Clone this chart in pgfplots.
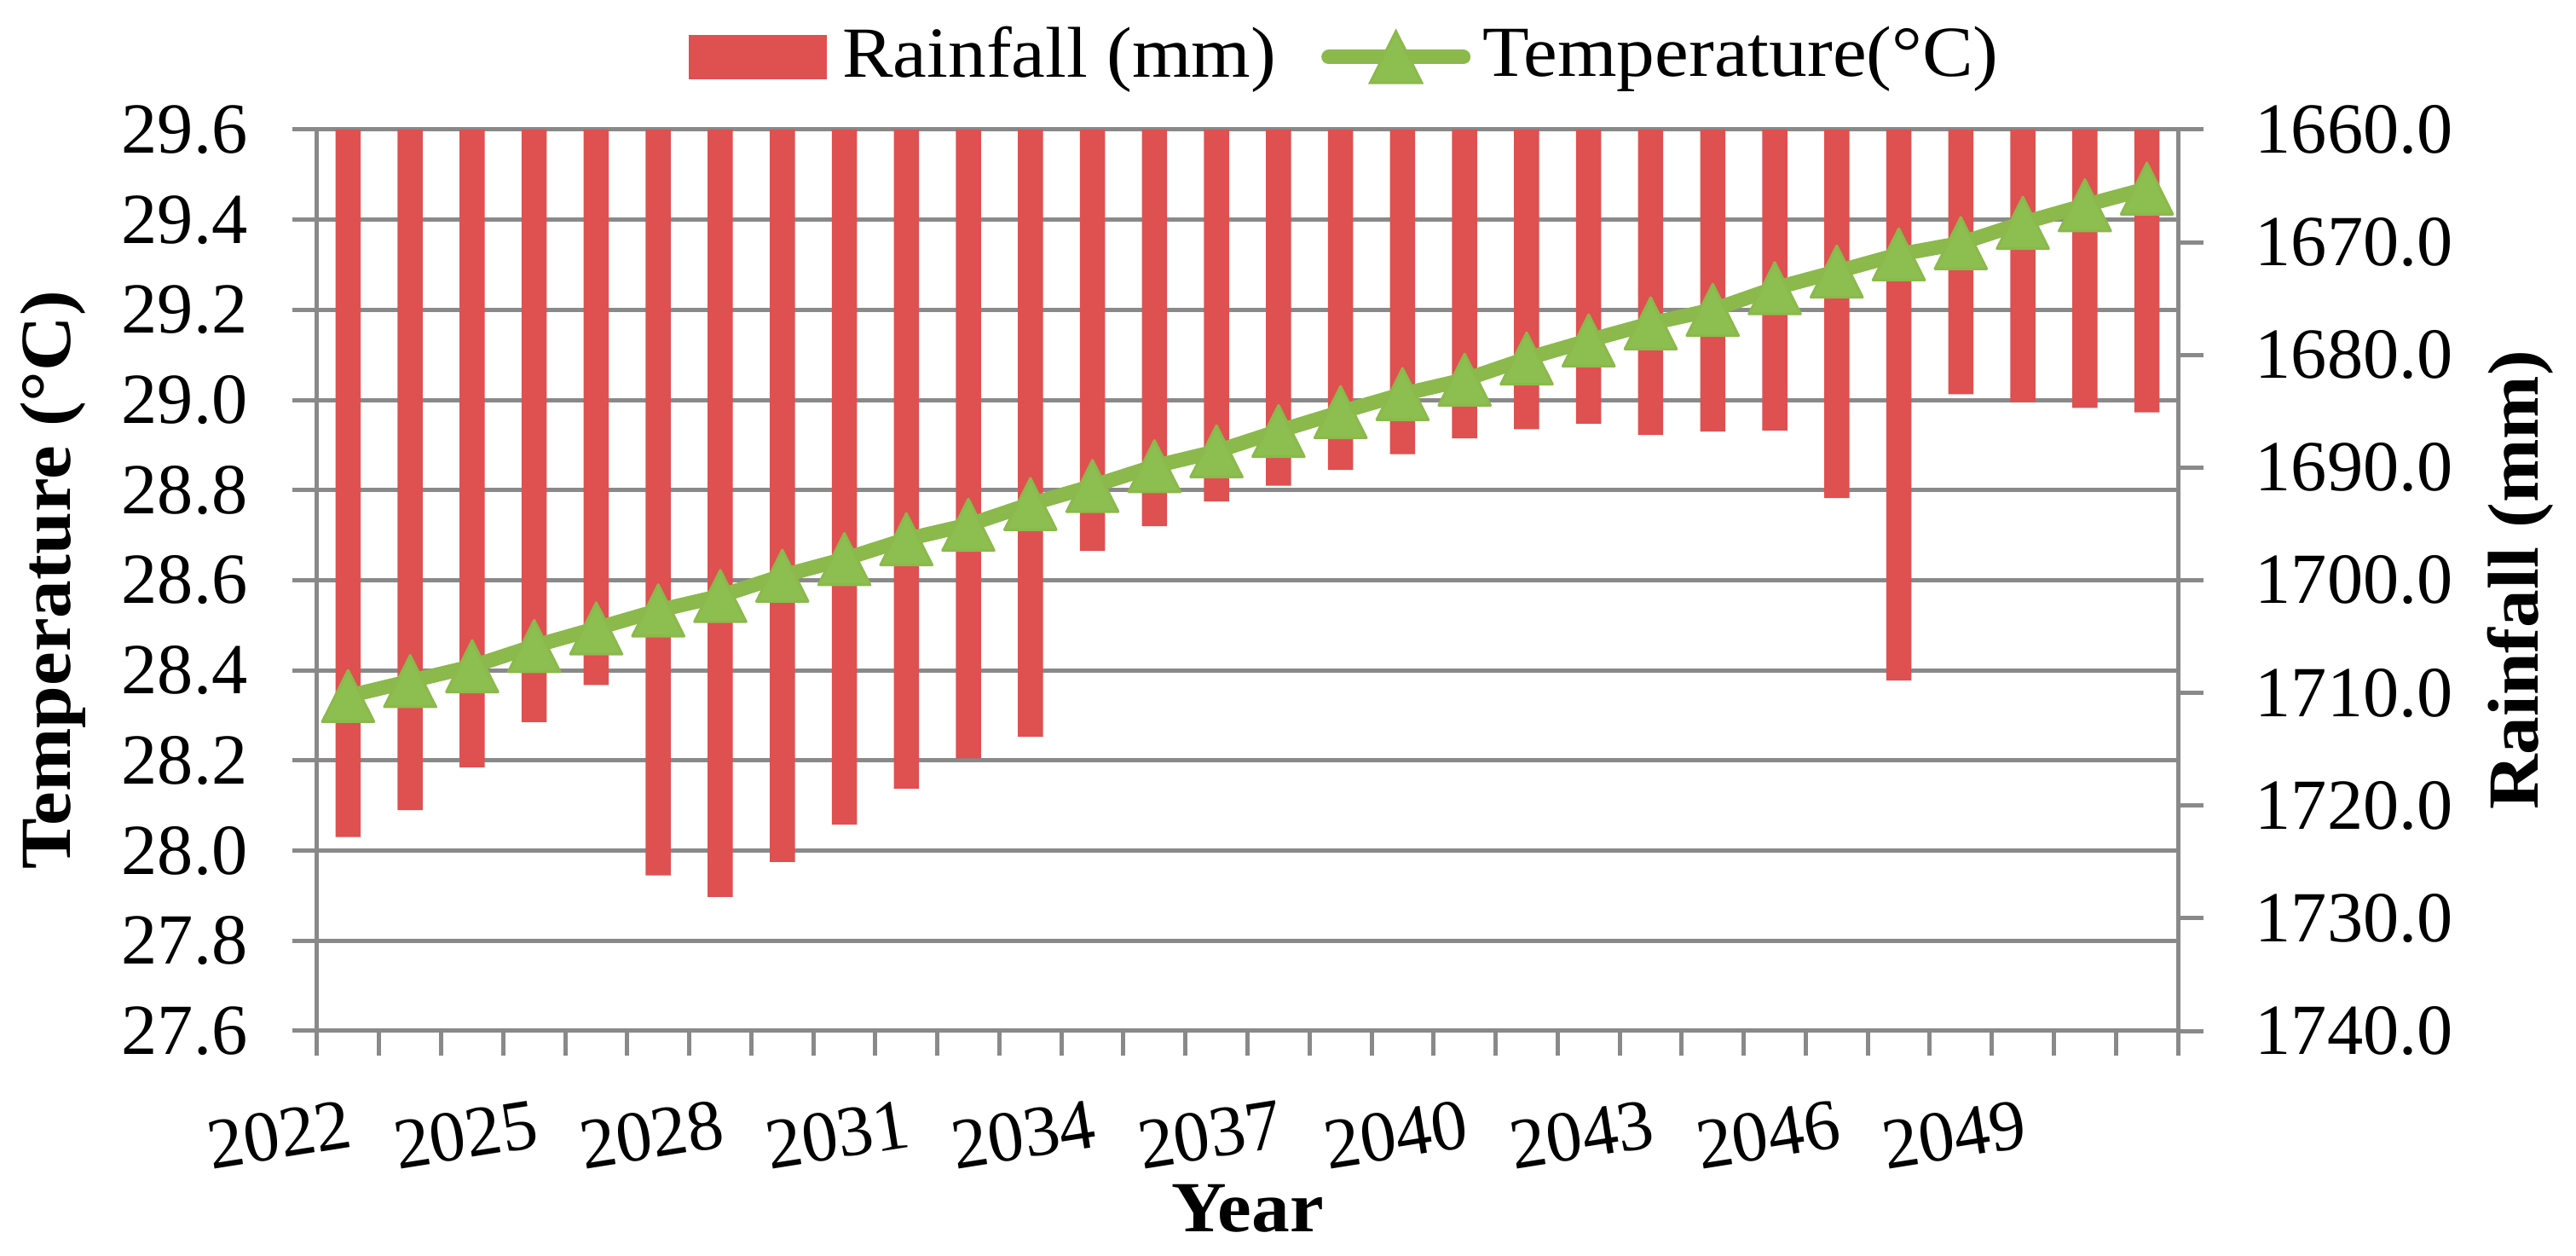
\documentclass[border=0pt]{standalone}
\usepackage{pgfplots}
\pgfplotsset{compat=1.18}
\usepackage{pgfplotstable}
\usepackage{fontspec}
\setmainfont{Liberation Serif}
\newfontfamily\wfont{Liberation Serif}[FakeStretch=1.06]
\definecolor{rainred}{HTML}{DF5050}
\definecolor{tgreen}{HTML}{8BB94C}
\definecolor{tgreenfill}{HTML}{8DBE50}
\definecolor{ggray}{HTML}{898989}
\newcommand\fs{\fontsize{24pt}{28pt}\selectfont}
\newcommand\wfs{\wfont\fontsize{24pt}{28pt}\selectfont}
\pgfplotstableread{
year rain
2022 1722.8
2023 1720.4
2024 1716.6
2025 1712.6
2026 1709.3
2027 1726.2
2028 1728.1
2029 1725.0
2030 1721.7
2031 1718.5
2032 1715.8
2033 1713.9
2034 1697.4
2035 1695.2
2036 1693.0
2037 1691.6
2038 1690.2
2039 1688.8
2040 1687.4
2041 1686.6
2042 1686.1
2043 1687.1
2044 1686.8
2045 1686.7
2046 1692.7
2047 1708.9
2048 1683.5
2049 1684.2
2050 1684.7
2051 1685.1
}\raintable
\pgfplotstableread{
year temp
2022 28.343
2023 28.376
2024 28.409
2025 28.454
2026 28.493
2027 28.533
2028 28.565
2029 28.610
2030 28.647
2031 28.691
2032 28.723
2033 28.769
2034 28.809
2035 28.853
2036 28.886
2037 28.931
2038 28.973
2039 29.013
2040 29.045
2041 29.092
2042 29.132
2043 29.170
2044 29.200
2045 29.248
2046 29.285
2047 29.323
2048 29.348
2049 29.393
2050 29.432
2051 29.469
}\temptable
\begin{document}
\fs
\begin{tikzpicture}
\path[use as bounding box] (-37.2mm,-26.4mm) rectangle (265.0mm,120.9mm);
% frame: temperature axis with grid, ticks, labels, legend
\begin{axis}[
  at={(0,0)}, anchor=south west, scale only axis,
  width=218.3mm, height=105.7mm,
  xmin=2021.5, xmax=2051.5,
  ymin=27.6, ymax=29.6,
  axis x line*=bottom, axis y line*=left,
  axis line style={-, draw=ggray, line width=0.5mm},
  tick align=outside, major tick length=2.9mm,
  tick style={draw=ggray, line width=0.5mm},
  ytick={27.6,27.8,28.0,28.2,28.4,28.6,28.8,29.0,29.2,29.4,29.6},
  ymajorgrids, grid style={draw=ggray, line width=0.5mm},
  yticklabel style={/pgf/number format/fixed, /pgf/number format/fixed zerofill, /pgf/number format/precision=1, /pgf/number format/assume math mode=true, inner sep=0pt, anchor=east, xshift=-5.2mm, font=\fs},
  xtick={2021.5,2022.5,2023.5,2024.5,2025.5,2026.5,2027.5,2028.5,2029.5,2030.5,2031.5,2032.5,2033.5,2034.5,2035.5,2036.5,2037.5,2038.5,2039.5,2040.5,2041.5,2042.5,2043.5,2044.5,2045.5,2046.5,2047.5,2048.5,2049.5,2050.5,2051.5},
  xticklabels={{},2022,{},{},2025,{},{},2028,{},{},2031,{},{},2034,{},{},2037,{},{},2040,{},{},2043,{},{},2046,{},{},2049,{},{}},
  xticklabel style={rotate=9, anchor=north east, inner sep=0pt, xshift=-4.5mm, yshift=-4.4mm, font=\fs},
  xlabel={\bfseries Year},
  xlabel style={at={(axis description cs:0.5,-0.197)}, anchor=center, font=\wfs},
  ylabel={\bfseries Temperature (°C)},
  ylabel style={at={(axis description cs:-0.142,0.5)}, anchor=center, font=\wfs},
  legend style={at={(axis description cs:0.1993,1.0804)}, anchor=west, draw=none, fill=none, inner sep=0pt, legend columns=2,
    /tikz/every odd column/.append style={column sep=1.4mm},
    /tikz/every even column/.append style={column sep=5.3mm},
    nodes={inner sep=0pt, font=\wfs}},
]
\addlegendimage{legend image code/.code={\fill[rainred] (0mm,-2.5mm) rectangle (16.1mm,2.5mm); \path (16.5mm,0mm);}}
\addlegendentry{Rainfall (mm)}
\addlegendimage{legend image code/.code={\draw[tgreen, line width=1.7mm, line cap=round, mark=triangle*, mark size=3.5mm, mark options={solid, fill=tgreenfill, draw=tgreen, line width=0.3mm, yshift=-1mm, yscale=1.15}, mark repeat=2, mark phase=2] plot coordinates {(0.85mm,0mm) (8.75mm,0mm) (16.65mm,0mm)};}}
\addlegendentry{Temperature(°C)}
\end{axis}
% rainfall bars on reversed right axis
\begin{axis}[
  at={(0,0)}, anchor=south west, scale only axis,
  width=218.3mm, height=105.7mm,
  xmin=2021.5, xmax=2051.5,
  axis x line=none, axis y line*=right,
  axis line style={-, draw=ggray, line width=0.5mm},
  y dir=reverse, ymin=1660, ymax=1740,
  ytick={1660,1670,1680,1690,1700,1710,1720,1730,1740},
  tick align=outside, major tick length=3mm,
  tick style={draw=ggray, line width=0.5mm},
  yticklabel style={/pgf/number format/fixed, /pgf/number format/fixed zerofill, /pgf/number format/precision=1, /pgf/number format/1000 sep={}, /pgf/number format/assume math mode=true, inner sep=0pt, anchor=west, xshift=6mm, font=\fs},
  ylabel={\bfseries Rainfall (mm)},
  ylabel style={at={(axis description cs:1.184,0.5)}, anchor=center, font=\wfs},
  ybar, bar width=2.95mm,
]
\addplot[fill=rainred, draw=none] table[x=year, y=rain]{\raintable};
\end{axis}
% temperature line
\begin{axis}[
  at={(0,0)}, anchor=south west, scale only axis,
  width=218.3mm, height=105.7mm,
  xmin=2021.5, xmax=2051.5, ymin=27.6, ymax=29.6,
  hide axis, clip=false,
]
\addplot[tgreen, line width=1.7mm, line join=round, mark=triangle*, mark size=3.5mm, mark options={solid, fill=tgreenfill, draw=tgreen, line width=0.3mm, yshift=-1mm, yscale=1.15}] table[x=year, y=temp]{\temptable};
\end{axis}
\end{tikzpicture}
\end{document}
